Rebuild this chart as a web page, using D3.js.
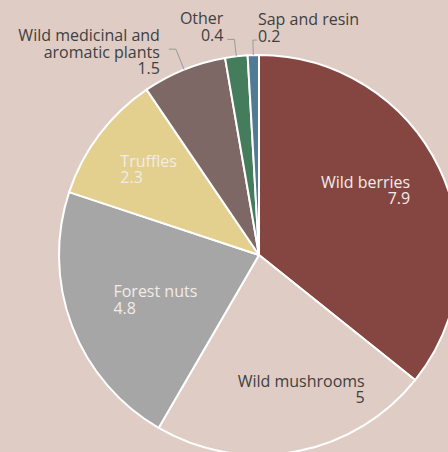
<!DOCTYPE html>
<html><head><meta charset="utf-8">
<script src="https://cdn.jsdelivr.net/npm/d3@7"></script>
<style>html,body{margin:0;padding:0;background:#dfccc4;overflow:hidden}</style>
</head><body>
<svg id="chart" width="448" height="452"></svg>
<script>
const categories = ["Wild berries","Wild mushrooms","Forest nuts","Truffles","Wild medicinal and aromatic plants","Other","Sap and resin"];
const values = [7.9, 5, 4.8, 2.3, 1.5, 0.4, 0.2];
const valueLabels = ["7.9","5","4.8","2.3","1.5","0.4","0.2"];
const colors = ["#854641","#dfccc4","#a6a6a6","#e3d08f","#7d6866","#447c5c","#527a94"];

const W = 448, H = 452, cx = 259, cy = 255, R = 200;
const svg = d3.select("#chart");
svg.append("rect").attr("width",W).attr("height",H).attr("fill","#dfccc4");
const g = svg.append("g").attr("transform",`translate(${cx},${cy})`);

const pie = d3.pie().sort(null).value(d => d.v);
const data = categories.map((c,i)=>({c, v:values[i], lbl:valueLabels[i], col:colors[i]}));
const arcs = pie(data);
const arc = d3.arc().innerRadius(0).outerRadius(R);

g.selectAll("path.slice").data(arcs).enter().append("path")
  .attr("class","slice").attr("d",arc)
  .attr("fill",d=>d.data.col).attr("stroke","#ffffff").attr("stroke-width",2).attr("stroke-linejoin","round");

// label layout (not data)
const layout = {
  "Wild berries": {type:"in", r:160, anchor:"end", dx:7, dy:2, lines:["Wild berries"], color:"#f3ebe7"},
  "Wild mushrooms": {type:"in", r:140, anchor:"end", dx:80, dy:-6, lines:["Wild mushrooms"], color:"#404040"},
  "Forest nuts": {type:"in", r:130, anchor:"start", dx:-24, dy:-4, lines:["Forest nuts"], color:"#f3ebe7"},
  "Truffles": {type:"in", r:150, anchor:"start", dx:-19, dy:2, lines:["Truffles"], color:"#f3ebe7"},
  "Wild medicinal and aromatic plants": {type:"out", er:222, hl:-7, anchor:"end", tdx:-16, tdy:-8, lines:["Wild medicinal and","aromatic plants"], color:"#404040"},
  "Other": {type:"out", er:217, hl:-7, anchor:"end", tdx:-11, tdy:-15, lines:["Other"], color:"#404040"},
  "Sap and resin": {type:"out", er:215, hl:4, anchor:"start", tdx:5, tdy:-15, lines:["Sap and resin"], color:"#404040"}
};
const LH = 16.5;
const font = "'Open Sans', sans-serif";

arcs.forEach(a => {
  const L = layout[a.data.c];
  const mid = (a.startAngle + a.endAngle)/2;
  const px = r => r*Math.sin(mid), py = r => -r*Math.cos(mid);
  let tx, ty;
  if (L.type === "in") {
    tx = px(L.r) + L.dx; ty = py(L.r) + L.dy;
  } else {
    const ex = px(L.er), ey = py(L.er);
    g.append("polyline")
      .attr("points", [[px(R),py(R)],[ex,ey],[ex+L.hl,ey]].map(p=>p.join(",")).join(" "))
      .attr("fill","none").attr("stroke","#9a9a9a").attr("stroke-width",1);
    tx = ex + L.tdx; ty = ey + L.tdy;
  }
  const t = g.append("text").attr("text-anchor",L.anchor)
    .attr("font-family",font).attr("font-size",16).attr("fill",L.color);
  const all = L.lines.concat([a.data.lbl]);
  all.forEach((s,i)=>{
    t.append("tspan").attr("x",tx).attr("y",ty + i*LH).text(s);
  });
});
</script>
</body></html>
